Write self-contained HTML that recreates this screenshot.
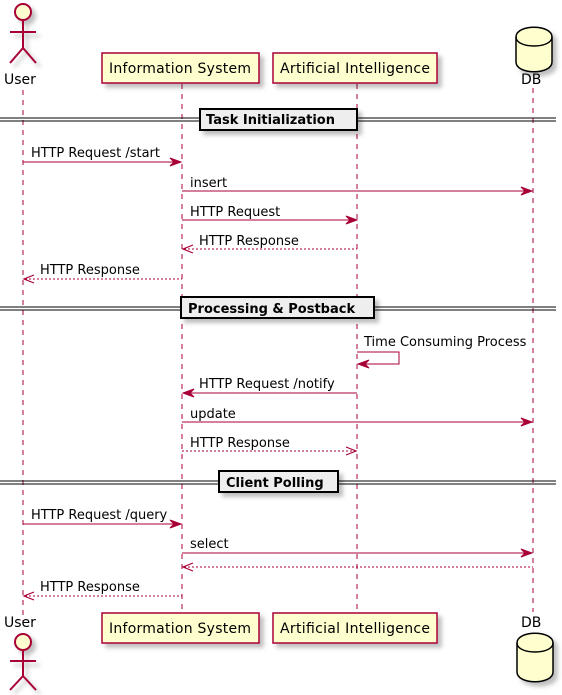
<!DOCTYPE html>
<html><head><meta charset="utf-8"><style>html,body{margin:0;padding:0;background:#fff}svg{display:block}</style></head>
<body>
<svg width="562" height="695" viewBox="0 0 562 695" xmlns="http://www.w3.org/2000/svg" font-family="DejaVu Sans, Liberation Sans, sans-serif">
<defs>
<filter id="sh" x="-20%" y="-20%" width="150%" height="160%"><feDropShadow dx="4" dy="4" stdDeviation="2" flood-color="#000" flood-opacity="0.25"/></filter>
</defs>
<g stroke="#A80036" stroke-width="1" stroke-dasharray="5,5" fill="none">
<line x1="23" y1="90" x2="23" y2="625"/>
<line x1="182" y1="84" x2="182" y2="613"/>
<line x1="357" y1="84" x2="357" y2="613"/>
<line x1="533" y1="88" x2="533" y2="612"/>
</g>
<g filter="url(#sh)">
<circle cx="23" cy="12" r="8" fill="#FEFECE" stroke="#A80036" stroke-width="2"/>
<path d="M23 20 V48 M10 32 H36 M23 48 L10 63 M23 48 L36 63" stroke="#A80036" stroke-width="2" fill="none"/>
<rect x="102" y="53" width="157" height="30" fill="#FEFECE" stroke="#A80036" stroke-width="1.5"/>
<rect x="273" y="53" width="164" height="30" fill="#FEFECE" stroke="#A80036" stroke-width="1.5"/>
<path d="M516 37 C516 24 552 24 552 37 V62 C552 75 516 75 516 62 Z" fill="#FEFECE" stroke="#000" stroke-width="1.5"/>
<path d="M516 37 C516 49 552 49 552 37" fill="none" stroke="#000" stroke-width="1.5"/>
</g>
<g font-size="14" fill="#000">
<text x="4" y="84">User</text>
<text x="109" y="73" textLength="142">Information System</text>
<text x="280" y="73" textLength="150">Artificial Intelligence</text>
<text x="521" y="84">DB</text>
</g>
<g filter="url(#sh)">
<circle cx="23" cy="642" r="8" fill="#FEFECE" stroke="#A80036" stroke-width="2"/>
<path d="M23 650 V676 M10 661 H36 M23 676 L10 690 M23 676 L36 690" stroke="#A80036" stroke-width="2" fill="none"/>
<rect x="102" y="613" width="157" height="30" fill="#FEFECE" stroke="#A80036" stroke-width="1.5"/>
<rect x="273" y="613" width="164" height="30" fill="#FEFECE" stroke="#A80036" stroke-width="1.5"/>
<path d="M517 643 C517 630 553 630 553 643 V672 C553 685 517 685 517 672 Z" fill="#FEFECE" stroke="#000" stroke-width="1.5"/>
<path d="M517 643 C517 655 553 655 553 643" fill="none" stroke="#000" stroke-width="1.5"/>
</g>
<g font-size="14" fill="#000">
<text x="4" y="627">User</text>
<text x="109" y="633" textLength="142">Information System</text>
<text x="280" y="633" textLength="150">Artificial Intelligence</text>
<text x="521" y="627">DB</text>
</g>
<g stroke="#000" stroke-width="1" fill="none">
<line x1="0" y1="118" x2="556" y2="118"/><line x1="0" y1="121" x2="556" y2="121"/>
<line x1="0" y1="307" x2="556" y2="307"/><line x1="0" y1="310" x2="556" y2="310"/>
<line x1="0" y1="481" x2="556" y2="481"/><line x1="0" y1="484" x2="556" y2="484"/>
</g>
<g filter="url(#sh)" fill="#EEEEEE" stroke="#000" stroke-width="2">
<rect x="200" y="109" width="157" height="21"/>
<rect x="181" y="297" width="193" height="21"/>
<rect x="219" y="471" width="119" height="21"/>
</g>
<g font-size="13" font-weight="bold" fill="#000">
<text x="206" y="124">Task Initialization</text>
<text x="188" y="313">Processing &amp; Postback</text>
<text x="226" y="487">Client Polling</text>
</g>
<g stroke="#A80036" stroke-width="1" fill="none">
<line x1="23" y1="162" x2="180" y2="162"/>
<line x1="182" y1="191" x2="531" y2="191"/>
<line x1="182" y1="220" x2="355" y2="220"/>
<line x1="184" y1="249" x2="357" y2="249" stroke-dasharray="2,2"/>
<line x1="25" y1="279" x2="182" y2="279" stroke-dasharray="2,2"/>
<path d="M357 352 H399 V364 H359"/>
<line x1="184" y1="393" x2="357" y2="393"/>
<line x1="182" y1="422" x2="531" y2="422"/>
<line x1="182" y1="451" x2="355" y2="451" stroke-dasharray="2,2"/>
<line x1="23" y1="524" x2="180" y2="524"/>
<line x1="182" y1="553" x2="531" y2="553"/>
<line x1="184" y1="567" x2="533" y2="567" stroke-dasharray="2,2"/>
<line x1="25" y1="596" x2="182" y2="596" stroke-dasharray="2,2"/>
</g>
<g fill="#A80036" stroke="#A80036">
<polygon points="170,158 181,162 170,166 174,162"/>
<polygon points="521,187 532,191 521,195 525,191"/>
<polygon points="346,216 357,220 346,224 350,220"/>
<polygon points="369,360 358,364 369,368 365,364"/>
<polygon points="194,389 183,393 194,397 190,393"/>
<polygon points="521,418 532,422 521,426 525,422"/>
<polygon points="170,520 181,524 170,528 174,524"/>
<polygon points="521,549 532,553 521,557 525,553"/>
</g>
<g stroke="#A80036" stroke-width="1.2" fill="none">
<path d="M193 245 L183 249 L193 253"/>
<path d="M34 275 L24 279 L34 283"/>
<path d="M346 447 L356 451 L346 455"/>
<path d="M193 563 L183 567 L193 571"/>
<path d="M34 592 L24 596 L34 600"/>
</g>
<g font-size="13" fill="#000">
<text x="31" y="157">HTTP Request /start</text>
<text x="190" y="187">insert</text>
<text x="190" y="216">HTTP Request</text>
<text x="199" y="245">HTTP Response</text>
<text x="40" y="274">HTTP Response</text>
<text x="364" y="346">Time Consuming Process</text>
<text x="199" y="388">HTTP Request /notify</text>
<text x="190" y="418">update</text>
<text x="190" y="447">HTTP Response</text>
<text x="31" y="519">HTTP Request /query</text>
<text x="190" y="548">select</text>
<text x="40" y="591">HTTP Response</text>
</g>
</svg>
</body></html>
